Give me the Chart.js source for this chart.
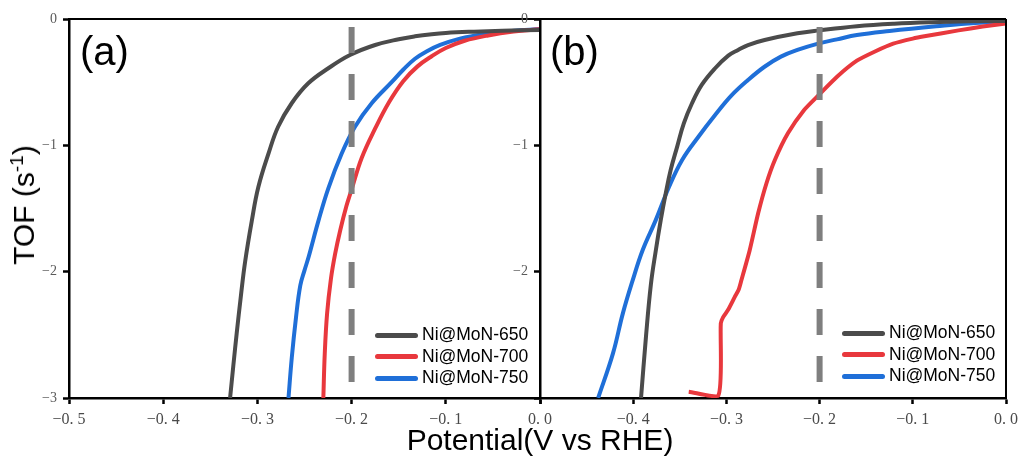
<!DOCTYPE html>
<html>
<head>
<meta charset="utf-8">
<script src="https://cdn.jsdelivr.net/npm/chart.js@4.4.1/dist/chart.umd.min.js"></script>
<style>
  body { margin: 0; background: #fff; }
  #wrap { position: relative; width: 1024px; height: 457px; overflow: hidden; font-family: "Liberation Sans", Arial, sans-serif; }
  canvas { position: absolute; left: 0; top: 0; }
  .panel { position: absolute; font-size: 40px; line-height: 40px; color: #000; }
  .ytitle { position: absolute; left: 24px; top: 205px; font-size: 30px; white-space: nowrap;
            transform: translate(-50%, -50%) rotate(-90deg); }
  .ytitle sup { font-size: 19px; vertical-align: 11px; line-height: 0; }
  .xtitle { position: absolute; left: 540px; top: 423px; font-size: 30px; white-space: nowrap; transform: translateX(-50%); }
  .legend { position: absolute; font-size: 17.5px; }
  .legend .row { position: relative; height: 21.5px; line-height: 21.5px; white-space: nowrap; }
  .legend .sw { position: absolute; left: 0; top: 8.5px; width: 43px; height: 5px; border-radius: 2.5px; }
  .legend .tx { position: absolute; left: 47px; top: 0; }
</style>
</head>
<body>
<div id="wrap">
  <canvas id="chartA" width="1024" height="457"></canvas>
  <canvas id="chartB" width="1024" height="457"></canvas>
  <div class="panel" style="left:80px; top:31px;">(a)</div>
  <div class="panel" style="left:550px; top:31px;">(b)</div>
  <div class="ytitle">TOF (s<sup>-1</sup>)</div>
  <div class="xtitle">Potential(V vs RHE)</div>
  <div class="legend" id="legendA" style="left:375px; top:324px;"></div>
  <div class="legend" id="legendB" style="left:842px; top:322px;"></div>
</div>
<script>
// series names and colours
var seriesNames = ['Ni@MoN-650', 'Ni@MoN-700', 'Ni@MoN-750'];
var seriesColors = ['#4b4b4b', '#e8383d', '#1f6fd8'];

// tick labels
var xTicks = [-0.5, -0.4, -0.3, -0.2, -0.1, 0.0];
var yTicks = [0, -1, -2, -3];

// reference potential (dashed line)
var refPotential = -0.2;
var refTof = [-0.063, -2.874];

// panel (a)
var potA650 = [-0.329, -0.3255, -0.322, -0.3175, -0.313, -0.306, -0.299, -0.288, -0.278, -0.2636, -0.246, -0.2247, -0.2017, -0.175, -0.150, -0.1327, -0.115, -0.100, -0.070, -0.040, 0.0];
var tofA650 = [-3.0, -2.74, -2.49, -2.19, -1.92, -1.60, -1.33, -1.06, -0.853, -0.667, -0.509, -0.39, -0.285, -0.206, -0.16, -0.137, -0.12, -0.11, -0.10, -0.093, -0.087];
var potA700 = [-0.230, -0.2285, -0.226, -0.222, -0.2175, -0.212, -0.2055, -0.200, -0.1893, -0.1752, -0.160, -0.145, -0.130, -0.115, -0.100, -0.080, -0.055, -0.028, 0.0];
var tofA700 = [-3.0, -2.65, -2.33, -2.06, -1.86, -1.67, -1.48, -1.35, -1.10, -0.87, -0.655, -0.49, -0.375, -0.295, -0.23, -0.172, -0.13, -0.10, -0.082];
var potA750 = [-0.267, -0.2635, -0.259, -0.2545, -0.250, -0.2455, -0.2353, -0.2247, -0.2105, -0.1964, -0.1787, -0.1575, -0.145, -0.1327, -0.120, -0.106, -0.085, -0.060, -0.030, 0.0];
var tofA750 = [-3.0, -2.68, -2.36, -2.11, -1.99, -1.88, -1.60, -1.34, -1.065, -0.853, -0.667, -0.50, -0.40, -0.315, -0.255, -0.205, -0.155, -0.12, -0.095, -0.08];

// panel (b)
var potB650 = [-0.3916, -0.3863, -0.381, -0.3757, -0.3704, -0.3651, -0.3598, -0.3528, -0.3457, -0.3369, -0.3263, -0.3121, -0.298, -0.2874, -0.2768, -0.259, -0.2238, -0.2007, -0.160, -0.120, -0.080, -0.040, 0.0];
var tofB650 = [-3.0, -2.515, -2.10, -1.83, -1.59, -1.38, -1.195, -1.01, -0.826, -0.667, -0.52, -0.39, -0.29, -0.245, -0.206, -0.166, -0.113, -0.09, -0.057, -0.037, -0.025, -0.018, -0.015];
var potB700 = [-0.3404, -0.3086, -0.3060, -0.3035, -0.298, -0.291, -0.287, -0.284, -0.275, -0.266, -0.257, -0.248, -0.234, -0.2166, -0.2007, -0.1813, -0.160, -0.140, -0.121, -0.100, -0.086, -0.051, -0.025, 0.0];
var tofB700 = [-2.95, -2.98, -2.41, -2.36, -2.30, -2.20, -2.146, -2.07, -1.83, -1.54, -1.30, -1.116, -0.905, -0.72, -0.60, -0.457, -0.33, -0.255, -0.195, -0.155, -0.135, -0.09, -0.06, -0.035];
var potB750 = [-0.4376, -0.4217, -0.4111, -0.4005, -0.3899, -0.3757, -0.3616, -0.3475, -0.3298, -0.3121, -0.2945, -0.2768, -0.2591, -0.2415, -0.2238, -0.2007, -0.1813, -0.160, -0.125, -0.075, -0.033, 0.0];
var tofB750 = [-3.0, -2.647, -2.33, -2.067, -1.83, -1.59, -1.33, -1.116, -0.93, -0.76, -0.605, -0.483, -0.378, -0.298, -0.245, -0.193, -0.161, -0.127, -0.095, -0.058, -0.032, -0.024];

function pairs(xs, ys) {
    return xs.map(function (x, i) { return { x: x, y: ys[i] }; });
}

function fmtX(v) {
    var s = Math.abs(v).toFixed(1).replace('.', '. ');
    return (v < 0 ? '\u2212' : '') + s;
}
function fmtY(v) {
    return v === 0 ? '0' : (v < 0 ? '\u2212' : '') + Math.abs(v);
}

// top / right frame lines
const framePlugin = {
    id: 'frame',
    afterDraw(chart, args, opts) {
        const a = chart.chartArea, ctx = chart.ctx;
        ctx.save();
        ctx.strokeStyle = '#000';
        ctx.lineWidth = 2;
        ctx.beginPath();
        ctx.moveTo(a.left, a.top);
        ctx.lineTo(a.right, a.top);
        if (opts.right) {
            ctx.moveTo(a.right, a.top);
            ctx.lineTo(a.right, a.bottom);
        }
        ctx.stroke();
        ctx.restore();
    }
};

function makeChart(id, lines, tensions, padRight, yWidth, hideX, hideY, rightBorder) {
    const datasets = lines.map(function (d, i) {
        return {
            label: seriesNames[i],
            data: d,
            borderColor: seriesColors[i],
            borderWidth: 4,
            pointRadius: 0,
            tension: tensions[i],
            borderJoinStyle: 'round',
            fill: false
        };
    });
    datasets.unshift({
        label: 'ref',
        data: pairs([refPotential, refPotential], refTof),
        borderColor: '#7f7f7f',
        borderWidth: 6,
        borderDash: [26, 21],
        borderCapStyle: 'butt',
        pointRadius: 0,
        fill: false
    });
    return new Chart(document.getElementById(id), {
        type: 'line',
        data: { datasets: datasets },
        plugins: [framePlugin],
        options: {
            responsive: false,
            animation: false,
            devicePixelRatio: 1,
            layout: { padding: { left: 0, top: 19, right: padRight, bottom: 0 } },
            plugins: {
                legend: { display: false },
                tooltip: { enabled: false },
                frame: { right: rightBorder }
            },
            scales: {
                x: {
                    type: 'linear',
                    min: -0.5,
                    max: 0,
                    afterBuildTicks: function (s) { s.ticks = xTicks.map(function (v) { return { value: v }; }); },
                    afterFit: function (s) { s.height = 457 - 398; },
                    border: { display: true, color: '#000', width: 2.5 },
                    grid: { display: true, drawOnChartArea: false, drawTicks: true, tickLength: 6, tickWidth: 2.5, tickColor: '#000' },
                    ticks: {
                        padding: 6,
                        color: '#4a4a4a',
                        maxRotation: 0,
                        autoSkip: false,
                        font: { family: '"Liberation Serif", "DejaVu Serif", serif', size: 16 },
                        callback: function (v) { return hideX.indexOf(v) >= 0 ? '' : fmtX(v); }
                    }
                },
                y: {
                    type: 'linear',
                    min: -3,
                    max: 0,
                    afterBuildTicks: function (s) { s.ticks = yTicks.map(function (v) { return { value: v }; }); },
                    afterFit: function (s) { s.width = yWidth; },
                    border: { display: true, color: '#000', width: 2.5 },
                    grid: { display: true, drawOnChartArea: false, drawTicks: true, tickLength: 6, tickWidth: 2.5, tickColor: '#000' },
                    ticks: {
                        padding: 6,
                        color: '#5a5a5a',
                        autoSkip: false,
                        font: { family: '"Liberation Serif", "DejaVu Serif", serif', size: 14 },
                        callback: function (v) { return hideY.indexOf(v) >= 0 ? '' : fmtY(v); }
                    }
                }
            }
        }
    });
}

makeChart('chartA', [pairs(potA650, tofA650), pairs(potA700, tofA700), pairs(potA750, tofA750)], [0.4, 0.4, 0.4], 1024 - 540, 69, [], [], false);
makeChart('chartB', [pairs(potB650, tofB650), pairs(potB700, tofB700), pairs(potB750, tofB750)], [0.4, 0.2, 0.4], 13, 540, [-0.5], [-3], true);

function buildLegend(id) {
    var box = document.getElementById(id);
    seriesNames.forEach(function (name, i) {
        var row = document.createElement('div');
        row.className = 'row';
        row.innerHTML = '<span class="sw" style="background:' + seriesColors[i] + '"></span><span class="tx">' + name + '</span>';
        box.appendChild(row);
    });
}
buildLegend('legendA');
buildLegend('legendB');
</script>
</body>
</html>
